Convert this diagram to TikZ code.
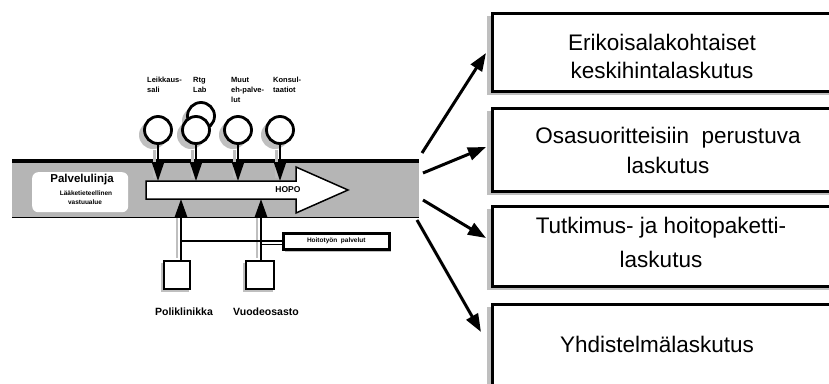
\documentclass[tikz,border=0pt]{standalone}
\usepackage{fontspec}
\setmainfont{Liberation Sans}
\usetikzlibrary{arrows.meta}
\begin{document}
\begin{tikzpicture}[x=1pt,y=-1pt,
  shade/.style={fill=gray!50,draw=none},
  billbox/.style={draw=black,line width=2.5pt,fill=white,anchor=north west,minimum width=344pt,inner sep=0pt},
  bigtxt/.style={font=\fontsize{22.5}{26}\selectfont,anchor=base},
  lbl/.style={font=\bfseries\fontsize{7.5}{10}\selectfont,anchor=north west,align=left,inner sep=0pt},
  unit/.style={circle,draw=black,line width=2.8pt,fill=white,minimum size=27pt,inner sep=0pt},
  dept/.style={draw=black,line width=2pt,fill=white,anchor=north west,minimum width=26pt,minimum height=28pt,inner sep=0pt},
  bigarrow/.style={line width=3pt,-{Triangle[length=18pt,width=13pt]}},
  downarrow/.style={line width=2.5pt,-{Triangle[length=19pt,width=12pt]}},
  uparrow/.style={line width=2.5pt,-{Triangle[length=18pt,width=12pt]}},
  deptlbl/.style={font=\bfseries\fontsize{10.5}{12}\selectfont}
]
\useasboundingbox (0,0) rectangle (829,383);
\clip (0,0) rectangle (829,383);
\fill[white] (0,0) rectangle (829,383);

% ---- billing boxes ----
\fill[shade] (487,16) rectangle (835,95);
\node[billbox,minimum height=78pt] (b1) at (491,12) {};
\fill[shade] (487,111) rectangle (835,195);
\node[billbox,minimum height=83pt] (b2) at (491,107) {};
\fill[shade] (487,209) rectangle (835,290);
\node[billbox,minimum height=80pt] (b3) at (491,205) {};
\fill[shade] (487,307) rectangle (835,400);
\node[billbox,minimum height=97pt] (b4) at (491,303) {};

\node[bigtxt] (t1a) at (662,50) {Erikoisalakohtaiset};
\node[bigtxt] (t1b) at (662,78) {keskihintalaskutus};
\node[bigtxt] (t2a) at (668,143) {Osasuoritteisiin\ \ perustuva};
\node[bigtxt] (t2b) at (668,173) {laskutus};
\node[bigtxt] (t3a) at (661,233) {Tutkimus- ja hoitopaketti-};
\node[bigtxt] (t3b) at (661,267) {laskutus};
\node[bigtxt] (t4a) at (657,352) {Yhdistelmälaskutus};

% ---- band ----
\node[fill=gray!58,draw=none,anchor=north west,minimum width=407pt,minimum height=56pt,inner sep=0pt] (band) at (12,161) {};
\draw[line width=3.5pt] (band.north west) -- (band.north east);
\draw[line width=0.8pt] (band.south west) -- (band.south east);

\node[fill=white,rounded corners=6pt,anchor=north west,minimum width=96pt,minimum height=40pt,inner sep=0pt] (pl) at (32,172) {};
\node[font=\bfseries\fontsize{11.5}{13}\selectfont] (plt) at (82,180) {Palvelulinja};
\node[font=\bfseries\fontsize{6.5}{7}\selectfont] (plt2) at (86,193) {Lääketieteellinen};
\node[font=\bfseries\fontsize{6.5}{7}\selectfont] (plt3) at (85,202) {vastuualue};

% ---- HOPO arrow ----
\draw[line width=1.5pt,fill=white] (146,181) -- (296,181) -- (296,167) -- (348,190) -- (296,213) -- (296,199) -- (146,199) -- cycle;
\node[font=\bfseries\fontsize{8.5}{10}\selectfont] (hopo) at (288,190) {HOPO};

\coordinate (a1) at (158,181);
\coordinate (a2) at (196,181);
\coordinate (a3) at (238,181);
\coordinate (a4) at (280,181);
\coordinate (u1) at (181,199);
\coordinate (u2) at (261,199);

% ---- units (circles) ----
\foreach \x/\n in {158/1,196/2,238/3,280/4}{
  \fill[shade] (\x-5,135) circle (14pt);
  \fill[shade] (\x-5,150) rectangle (\x-2,178);
}
\fill[shade] (196,121) circle (14pt);
\node[unit] (c2b) at (201,116) {};
\node[unit] (c1) at (158,130) {};
\node[unit] (c2) at (196,130) {};
\node[unit] (c3) at (238,130) {};
\node[unit] (c4) at (280,130) {};

\draw[downarrow] (c1.south) -- (a1);
\draw[downarrow] (c2.south) -- (a2);
\draw[downarrow] (c3.south) -- (a3);
\draw[downarrow] (c4.south) -- (a4);

\node[lbl] (l1) at (147,77) {Leikkaus-\\sali};
\node[lbl] (l2) at (193,77) {Rtg\\Lab};
\node[lbl] (l3) at (231,77) {Muut\\eh-palve-\\lut};
\node[lbl] (l4) at (273,77) {Konsul-\\taatiot};

% ---- departments ----
\fill[shade] (161,263) rectangle (189,292);
\fill[shade] (243,263) rectangle (273,292);
\node[dept] (sq1) at (163,260) {};
\node[dept,minimum width=28pt] (sq2) at (245,260) {};
\fill[shade] (176,218) rectangle (178,258);
\fill[shade] (256,218) rectangle (258,258);
\draw[uparrow] (sq1.north -| u1) -- (u1);
\draw[uparrow] (sq2.north -| u2) -- (u2);

\node[deptlbl] (pk) at (184,312) {Poliklinikka};
\node[deptlbl] (vo) at (266,312) {Vuodeosasto};

% ---- nursing services ----
\fill[shade] (285,236) rectangle (391,252);
\node[draw=black,line width=2.5pt,fill=white,anchor=north west,minimum width=106pt,minimum height=16pt,inner sep=0pt,font=\bfseries\fontsize{6.5}{7}\selectfont] (hp) at (282,232) {Hoitotyön\ \ palvelut};
\draw[line width=2pt] (hp.west -| u1) -- (hp.west);
\draw[line width=1pt] ([yshift=-3pt]hp.west -| u2) -- ([yshift=-3pt]hp.west);

% ---- arrows to billing boxes ----
\coordinate (s1) at (422,153);
\coordinate (s2) at (423,173);
\coordinate (s3) at (423,200);
\coordinate (s4) at (417,220);
\coordinate (e1) at (486,53);
\coordinate (e2) at (486,147);
\coordinate (e3) at (486,238);
\coordinate (e4) at (481,332);
\draw[bigarrow] (s1) -- (e1);
\draw[bigarrow] (s2) -- (e2);
\draw[bigarrow] (s3) -- (e3);
\draw[bigarrow] (s4) -- (e4);
\end{tikzpicture}
\end{document}
